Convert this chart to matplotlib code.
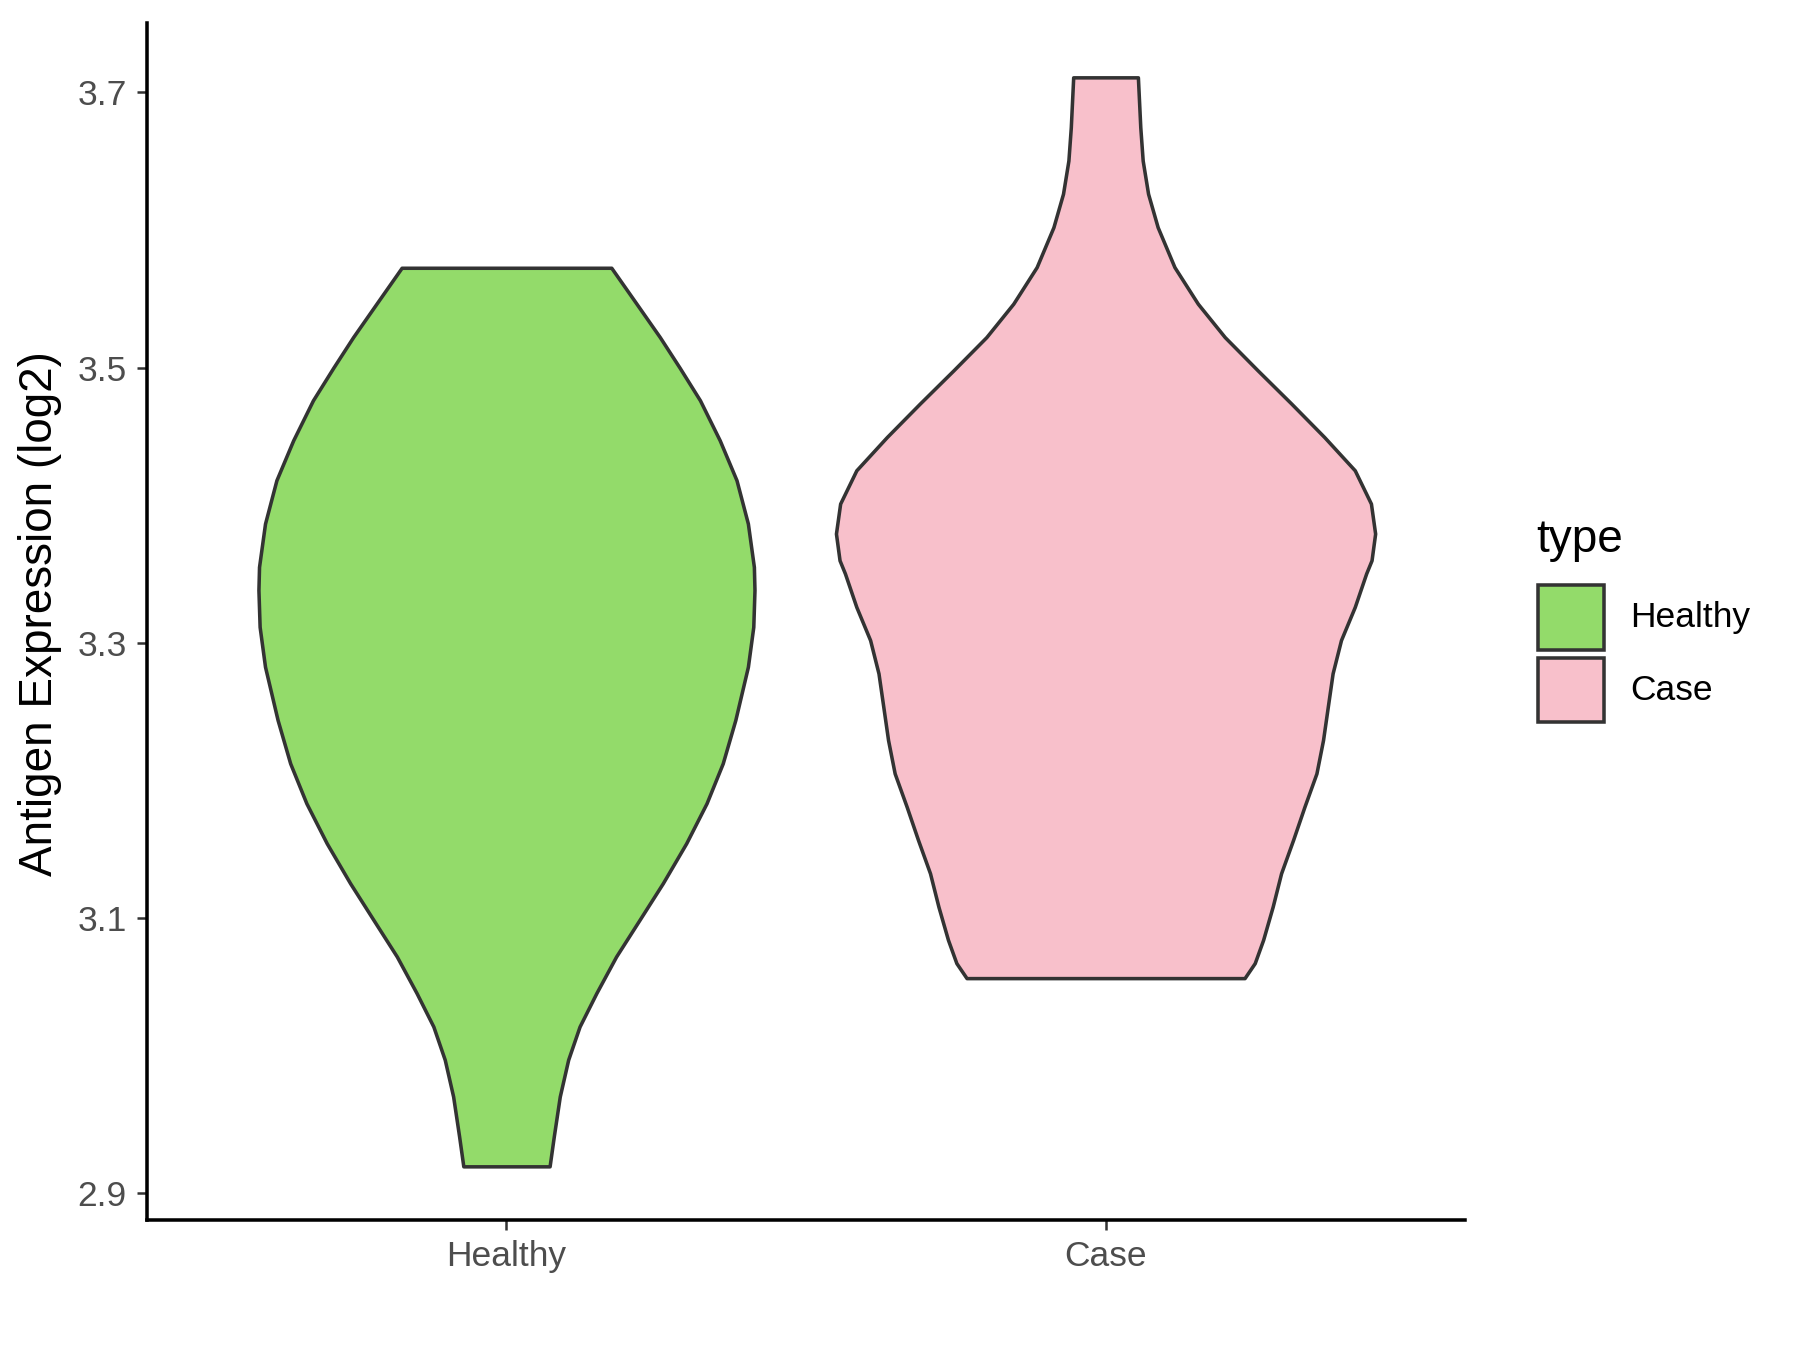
import matplotlib
matplotlib.use("Agg")
import matplotlib.pyplot as plt
from matplotlib.patches import Rectangle
import numpy as np

plt.rcParams['font.family'] = ['Liberation Sans', 'DejaVu Sans']

categories = ["Healthy", "Case"]
colors = ["#93DB6A", "#F8C0CB"]

# violin profiles: y value and half-width (in x units)
healthy_y = [3.5726, 3.5465, 3.5222, 3.5000, 3.4763, 3.4472, 3.4182, 3.3867, 3.3552,
             3.3383, 3.3116, 3.2826, 3.2439, 3.2124, 3.1834, 3.1543, 3.1253, 3.0986,
             3.0720, 3.0454, 3.0211, 2.9970, 2.9703, 2.9412, 2.9195]
healthy_hw = [0.175, 0.217, 0.256, 0.289, 0.323, 0.356, 0.384, 0.403, 0.413,
              0.414, 0.412, 0.403, 0.382, 0.361, 0.334, 0.300, 0.261, 0.222,
              0.183, 0.150, 0.122, 0.103, 0.089, 0.079, 0.072]

case_y = [3.7110, 3.6747, 3.6505, 3.6264, 3.6021, 3.5731, 3.5465, 3.5222, 3.4980,
          3.4739, 3.4496, 3.4254, 3.4012, 3.3794, 3.3600, 3.3504, 3.3261, 3.3020,
          3.2778, 3.2536, 3.2293, 3.2051, 3.1809, 3.1567, 3.1325, 3.1083, 3.0841,
          3.0672, 3.0563]
case_hw = [0.054, 0.058, 0.062, 0.071, 0.087, 0.115, 0.154, 0.199, 0.254,
           0.310, 0.365, 0.416, 0.443, 0.450, 0.444, 0.435, 0.416, 0.393,
           0.379, 0.371, 0.363, 0.352, 0.332, 0.313, 0.293, 0.279, 0.263,
           0.249, 0.232]

yticks = [2.9, 3.1, 3.3, 3.5, 3.7]
ytick_labels = ["2.9", "3.1", "3.3", "3.5", "3.7"]

fig = plt.figure(figsize=(12, 9), dpi=150)
W, H = 1800, 1350
ax = fig.add_axes([147 / W, 1 - 1220 / H, (1465 - 147) / W, (1220 - 23) / H])

profiles = [(healthy_y, healthy_hw), (case_y, case_hw)]
for i, ((ys, hws), col) in enumerate(zip(profiles, colors)):
    c = i + 1
    ys = np.array(ys)
    hws = np.array(hws)
    ax.fill_betweenx(ys, c - hws, c + hws, facecolor=col, edgecolor="#333333",
                     linewidth=1.7, joinstyle="round")

ax.set_xlim(0.4, 2.6)
ax.set_ylim(2.8805, 3.7505)
ax.set_xticks([1, 2])
ax.set_xticklabels(categories)
ax.set_yticks(yticks)
ax.set_yticklabels(ytick_labels)

for s in ["top", "right"]:
    ax.spines[s].set_visible(False)
for s in ["left", "bottom"]:
    ax.spines[s].set_linewidth(1.7)
    ax.spines[s].set_color("black")

ax.tick_params(axis="both", length=4.7, width=1.2, color="#333333",
               labelcolor="#4D4D4D", labelsize=17, pad=5)

fig.text(40 / W, 1 - 614 / H, "Antigen Expression (log2)", rotation=90,
         ha="center", va="center", fontsize=22, color="black")

# legend
fig.text(1536 / W, 1 - 540 / H, "type", ha="left", va="center", fontsize=22, color="black")
key_boxes = [(1538, 585, 1604, 650), (1538, 658, 1604, 722)]
for (x0, y0, x1, y1), col, lab in zip(key_boxes, colors, categories):
    fig.add_artist(Rectangle((x0 / W, 1 - y1 / H), (x1 - x0) / W, (y1 - y0) / H,
                             transform=fig.transFigure, facecolor=col,
                             edgecolor="#333333", linewidth=1.7))
    fig.text(1630 / W, 1 - ((y0 + y1) / 2) / H, lab, ha="left", va="center",
             fontsize=17, color="black")

fig.savefig("out.png", dpi=150)
